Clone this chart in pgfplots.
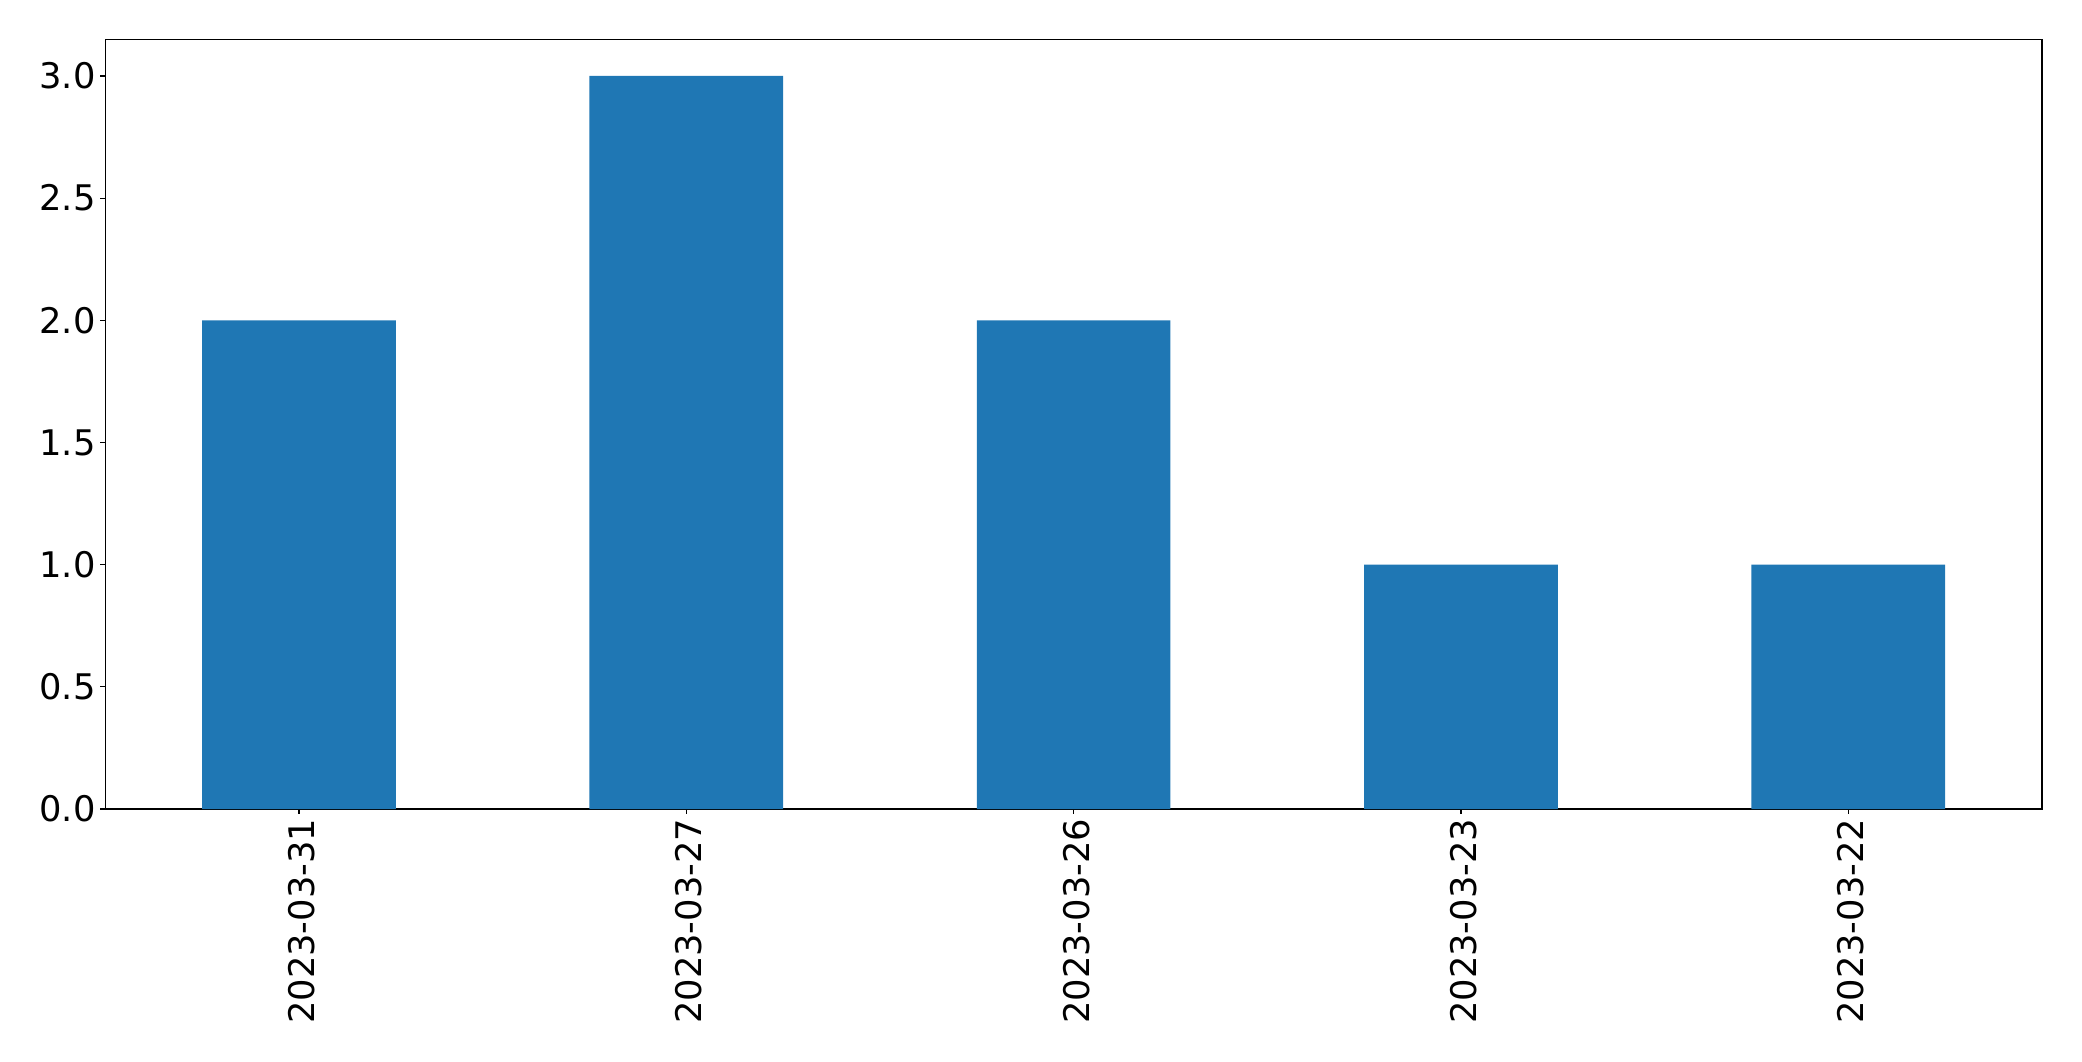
\documentclass[border=0pt]{standalone}
\usepackage{pgfplots}
\pgfplotsset{compat=1.18}
\usepackage{fontspec}
\setmainfont{DejaVu Sans}
\definecolor{barblue}{HTML}{1F77B4}
\begin{document}
\begin{tikzpicture}
\useasboundingbox (0,0) rectangle (1499pt,763.9pt);
\begin{axis}[
    at={(75.8pt,181.4pt)}, anchor=south west,
    scale only axis,
    width=1394.4pt, height=554.2pt,
    xmin=-0.5, xmax=4.5,
    ymin=0, ymax=3.15,
    xtick={0,1,2,3,4},
    xticklabels={2023-03-31,2023-03-27,2023-03-26,2023-03-23,2023-03-22},
    ytick={0,0.5,1,1.5,2,2.5,3},
    tick pos=left,
    tick align=outside,
    major tick length=3.5pt,
    every tick/.style={black, line width=0.8pt},
    axis line style={line width=0.8pt},
    /pgf/number format/assume math mode=true,
    yticklabel style={/pgf/number format/.cd, fixed, fixed zerofill, precision=1},
    ticklabel style={font=\fontsize{25.4}{30}\selectfont},
    xticklabel style={rotate=90, anchor=east, yshift=-2pt},
]
\addplot[ybar, bar width=0.5, bar shift=0pt, fill=barblue, draw=none]
    coordinates {(0,2) (1,3) (2,2) (3,1) (4,1)};
\end{axis}
\end{tikzpicture}
\end{document}
